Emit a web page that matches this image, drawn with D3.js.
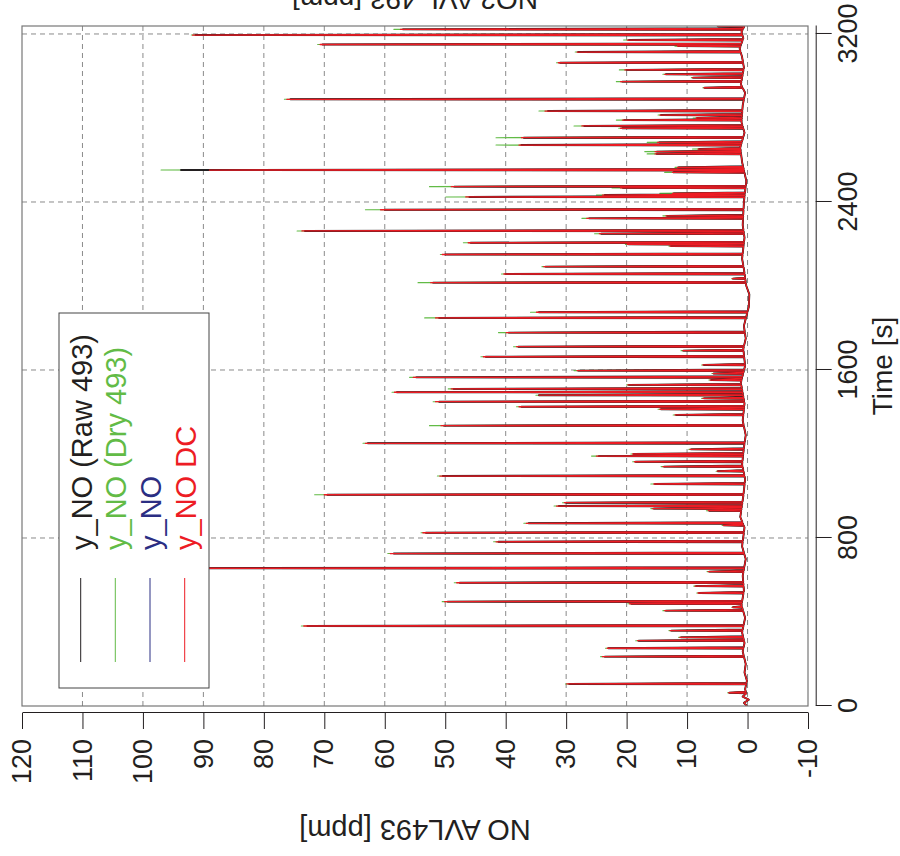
<!DOCTYPE html>
<html><head><meta charset="utf-8">
<script src="https://cdn.jsdelivr.net/npm/d3@7"></script>
<style>body{margin:0;background:#fff}svg{display:block}</style>
</head><body>
<svg id="chart" width="900" height="856"></svg>
<script>
// ---------------- DATA ----------------
const valueTicks = [-10, 0, 10, 20, 30, 40, 50, 60, 70, 80, 90, 100, 110, 120];
const timeTicks = [0, 800, 1600, 2400, 3200];
const seriesNames = ["y_NO (Raw 493)", "y_NO (Dry 493)", "y_NO", "y_NO DC"];
const seriesColors = ["#231f20", "#62bb46", "#2b2e83", "#ed1c24"];

// spike peaks (time [s]) and peak values [ppm]
const peakTime = [63,105,235,275,311,327,359,381,454,470,487,497,538,571,587,640,656,726,782,825,
  860,870,930,940,952,968,1006,1057,1095,1118,1140,1163,1190,1200,1222,1251,1335,1386,1413,1425,
  1449,1465,1480,1494,1510,1529,1552,1565,1583,1597,1624,1663,1692,1711,1778,1848,1875,2016,2035,2057,
  2092,2150,2190,2198,2206,2249,2262,2322,2334,2363,2424,2433,2441,2467,2473,2541,2552,2565,2629,2640,
  2652,2671,2684,2706,2751,2762,2790,2800,2814,2833,2889,2944,2973,2992,3008,3029,3063,3114,3142,3150,
  3171,3195,3222,3236];
const peakDC = [3.1,29.9,24,23.2,18.2,11.2,12.8,73.4,13.7,2.5,19.5,50.1,8.2,8.7,48.1,6.5,98,59.1,41.6,53.7,
  4,36.6,6.5,15.7,31.6,30.3,70,15.5,50.9,5,14,18.7,25,19,9.5,63.2,50.7,12,14.5,37.8,
  51.6,7.4,34.5,58.4,49,19.8,6.2,55.3,5.7,28.2,7.4,43.7,10.7,38.2,39.9,51.6,34.9,52.4,2.5,40.3,
  33.7,50.5,12.8,19.9,46.2,24.5,73.7,26.6,13.5,60.7,46.6,24,12.4,21,49,12.4,89,11.6,15.3,15.3,
  8.2,37.8,14.9,37.4,21,27.4,20.7,8.5,14.5,33.5,76.2,7.2,21,9.1,13.7,20.3,31.3,28.2,11.6,70.7,
  19.9,91.8,57.4,4.9];
const peakDry = [3.3,30.1,24.3,23.5,18.5,11.4,13,73.8,14,2.6,19.8,50.5,8.4,8.9,48.5,6.7,99,59.5,42,54,
  4.2,37,6.8,16,32,30.6,71.6,16,51.3,5.2,14.3,19,25.8,19.3,9.7,63.6,52.6,12.3,14.8,38.2,
  52,7.6,35,58.8,49.5,20,6.4,55.9,5.9,28.7,7.6,44.1,11,38.7,41.2,53.4,35.9,54.5,2.6,40.7,
  34,50.8,13,20.2,47,25.3,74.5,27.4,14,63.2,49.9,25,14.5,22.4,52.6,13.7,97,12,16.6,17,
  9.1,41.6,16.6,41.6,21.3,28.7,21.7,9,14.8,34.5,76.6,7.4,21.7,9.3,14,21.2,31.6,28.5,12,71.1,
  20.5,92,58.5,5];
const peakRaw = [3.0,29.5,23.6,23,18,11,12.6,72.8,13.5,2.4,19.2,49.6,8,8.5,47.6,6.3,97,58.5,41.2,53.2,
  3.9,36.2,6.3,15.5,31.2,30,69.5,15.3,50.4,4.9,13.8,18.5,24.6,18.8,9.3,62.8,50.2,11.8,14.3,37.4,
  51,7.2,34.5,58,48.6,19.6,6,54.8,5.6,28,7.2,43.3,10.6,37.9,39.5,51,34.5,52,2.4,40,
  33.4,50,12.6,19.6,45.8,24.2,73.2,26.2,13.3,60,46,23.6,12.2,20.6,48.5,12.2,93.7,11.4,15,15,
  8,37.4,14.6,37,20.7,27,20.4,8.3,14.3,33,75.6,7.1,20.7,9,13.5,20,31,28,11.4,70.3,
  19.6,91.3,57,4.8];
const peakY = peakRaw; // y_NO coincides with the raw trace (hidden under it)

// slowly varying baseline between spikes
const baseTime = [0,15,30,45,60,80,120,160,200,260,300,350,420,480,550,620,700,760,850,900,
  1000,1080,1150,1230,1290,1360,1440,1540,1620,1700,1750,1810,1900,1960,2000,2080,2130,2230,2290,2400,
  2500,2590,2660,2730,2780,2860,2920,2960,3040,3090,3130,3180,3210,3238];
const baseValue = [0.1,0.6,-0.2,0.8,0.2,0.4,0.1,0.5,0.3,0.8,0.5,0.9,0.4,1.0,0.6,0.8,0.3,0.9,0.5,1.2,
  0.7,0.4,0.9,0.6,0.3,0.8,0.5,1.1,0.4,0.7,0.3,0.6,-0.2,-0.3,0.2,0.6,0.9,0.5,0.8,0.6,
  0.2,0.9,1.2,0.5,1.0,0.8,0.4,1.1,0.6,0.9,1.3,0.7,1.0,0.5];

// ---------------- DRAWING ----------------
const FONT = "'Liberation Sans', Arial, Helvetica, sans-serif";
const svg = d3.select("#chart");
svg.append("rect").attr("width", 900).attr("height", 856).attr("fill", "#fff");
// chart is drawn in its own frame (856 wide x 900 tall) and turned 90° counter-clockwise
const g = svg.append("g").attr("transform", "translate(0,856) rotate(-90)");

const x = d3.scaleLinear().domain([0, 3238]).range([150, 830]);
const y = d3.scaleLinear().domain([-10, 120]).range([808, 22]);

// grid
g.append("g").selectAll("line").data(valueTicks.filter(v => v > -10 && v < 120)).join("line")
  .attr("x1", 150).attr("x2", 830).attr("y1", d => y(d)).attr("y2", d => y(d))
  .attr("stroke", "#8a8a8a").attr("stroke-width", 1).attr("stroke-dasharray", "5,4");
g.append("g").selectAll("line").data(timeTicks.filter(t => t > 0)).join("line")
  .attr("y1", 22).attr("y2", 808).attr("x1", d => x(d)).attr("x2", d => x(d))
  .attr("stroke", "#8a8a8a").attr("stroke-width", 1).attr("stroke-dasharray", "5,4");

// data
g.append("clipPath").attr("id", "clip").append("rect")
  .attr("x", 150).attr("y", 22).attr("width", 680).attr("height", 786);
const baseAt = d3.scaleLinear().domain(baseTime).range(baseValue);
const RISE = 2, FALL = 5;
function buildSeries(peaks) {
  const pts = baseTime.map((t, i) => ({t, v: baseValue[i]}));
  peakTime.forEach((t, i) => {
    pts.push({t: t - RISE, v: baseAt(t - RISE)});
    pts.push({t: t, v: peaks[i]});
    pts.push({t: t + FALL, v: baseAt(t + FALL)});
  });
  pts.sort((a, b) => a.t - b.t);
  return pts.filter(p => p.t >= 0 && p.t <= 3238);
}
const line = d3.line().x(d => x(d.t)).y(d => y(d.v));
// drawing order: navy (hidden), green, black, red on top
const drawOrder = [2, 1, 0, 3];
const seriesPeaks = [peakRaw, peakDry, peakY, peakDC];
const widths = [1.9, 1.1, 1.0, 1.3];
const dg = g.append("g").attr("clip-path", "url(#clip)");
drawOrder.forEach(i => {
  dg.append("path").datum(buildSeries(seriesPeaks[i])).attr("d", line)
    .attr("fill", "none").attr("stroke", seriesColors[i])
    .attr("stroke-width", widths[i]).attr("stroke-linejoin", "round");
});

// plot box
g.append("rect").attr("x", 150).attr("y", 22).attr("width", 680).attr("height", 786)
  .attr("fill", "none").attr("stroke", "#777").attr("stroke-width", 1.2);

// axes (offset from the box)
const fmt = d => String(d);
const yAxis = g.append("g").attr("transform", "translate(143,0)")
  .call(d3.axisLeft(y).tickValues(valueTicks).tickSize(16).tickSizeOuter(0).tickPadding(10).tickFormat(fmt));
const xAxis = g.append("g").attr("transform", "translate(0,815.7)")
  .call(d3.axisBottom(x).tickValues(timeTicks).tickSize(16).tickSizeOuter(0).tickPadding(6).tickFormat(fmt));
[yAxis, xAxis].forEach(a => {
  a.selectAll("path,line").attr("stroke", "#231f20").attr("stroke-width", 1);
  a.selectAll("text").attr("fill", "#231f20").style("font-family", FONT).style("font-size", "27px");
});

// titles
g.append("text").attr("x", 490).attr("y", 892).attr("text-anchor", "middle")
  .style("font-family", FONT).style("font-size", "28px").attr("fill", "#231f20").text("Time [s]");
g.append("text").attr("transform", "translate(36,415) rotate(-90)").attr("text-anchor", "middle")
  .style("font-family", FONT).style("font-size", "29px").attr("fill", "#231f20").text("NO AVL493 [ppm]");
g.append("text").attr("transform", "translate(866,415) rotate(-90)").attr("text-anchor", "middle")
  .style("font-family", FONT).style("font-size", "28px").attr("fill", "#231f20").text("NO2 AVL 493 [ppm]");

// legend
const lg = g.append("g");
lg.append("rect").attr("x", 168).attr("y", 59).attr("width", 375).attr("height", 150)
  .attr("fill", "#fff").attr("stroke", "#444").attr("stroke-width", 1);
const rowY = [80.7, 115.3, 150, 184.7];
seriesNames.forEach((name, i) => {
  lg.append("line").attr("x1", 194).attr("x2", 278).attr("y1", rowY[i]).attr("y2", rowY[i])
    .attr("stroke", seriesColors[i]).attr("stroke-width", 1);
  lg.append("text").attr("x", 306).attr("y", rowY[i] + 11)
    .style("font-family", FONT).style("font-size", "29px").attr("fill", seriesColors[i]).text(name);
});
</script>
</body></html>
